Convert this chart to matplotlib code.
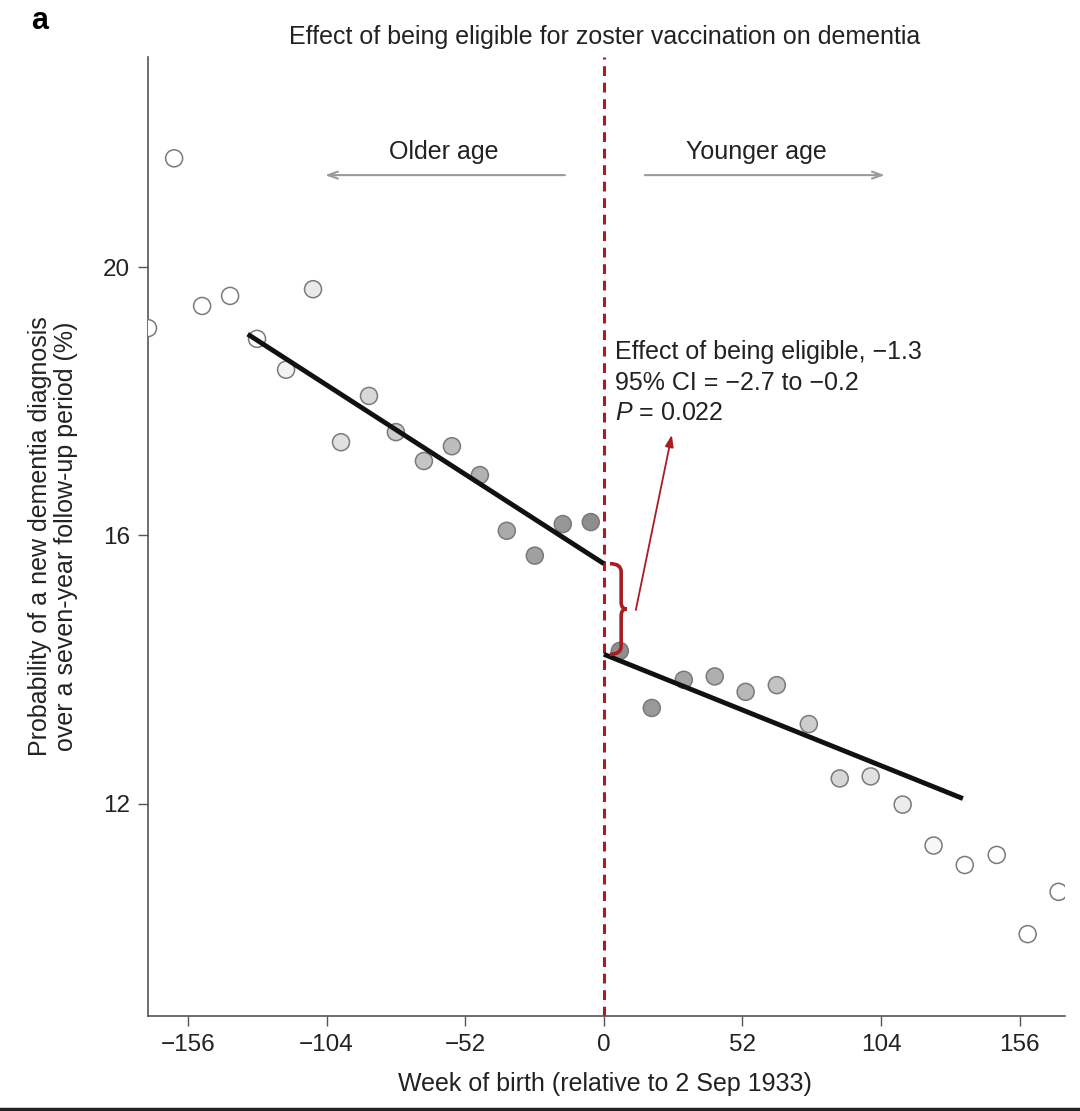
import matplotlib
matplotlib.use("Agg")
import matplotlib.pyplot as plt
from matplotlib.path import Path
from matplotlib.patches import PathPatch
from matplotlib.lines import Line2D
import numpy as np

plt.rcParams['font.family'] = ['Liberation Sans', 'DejaVu Sans']
plt.rcParams['mathtext.fontset'] = 'custom'
plt.rcParams['mathtext.it'] = 'Liberation Sans:italic'
plt.rcParams['mathtext.rm'] = 'Liberation Sans'

# binned data, weeks relative to 2 Sep 1933
weeks_before = [-171, -161.2, -150.7, -140.2, -130.1, -119.2, -109.1, -98.6, -88.1,
                -78.0, -67.5, -57.0, -46.5, -36.4, -25.9, -15.4, -4.9]
prob_before = [19.09, 21.62, 19.42, 19.57, 18.93, 18.47, 19.67, 17.39, 18.08,
               17.54, 17.11, 17.33, 16.90, 16.07, 15.70, 16.17, 16.20]
weeks_after = [6.0, 18.0, 30.0, 41.6, 53.2, 64.9, 76.9, 88.5, 100.1,
               112.1, 123.7, 135.4, 147.4, 159.0, 170.6]
prob_after = [14.28, 13.43, 13.85, 13.90, 13.67, 13.77, 13.19, 12.38, 12.41,
              11.99, 11.38, 11.09, 11.24, 10.06, 10.69]

# fitted lines (local linear, bandwidth ~134 weeks)
fit_before_x = [-133.6, 0]
fit_before_y = [19.00, 15.58]
fit_after_x = [0, 134.7]
fit_after_y = [14.23, 12.08]
bandwidth = 134

effect_lines = ["Effect of being eligible, \u22121.3",
                "95% CI = \u22122.7 to \u22120.2",
                "$P$ = 0.022"]

red = '#a71d23'
txt = '#222222'
fs = 18

fig = plt.figure(figsize=(10.8, 11.11), dpi=100)
ax = fig.add_axes([148/1080, 1 - 1016/1111, (1065-148)/1080, (1016-57)/1111])

wx = np.array(weeks_before + weeks_after)
wy = np.array(prob_before + prob_after)
w = np.clip(1 - np.abs(wx) / bandwidth, 0, 1)
shade = 1 - 0.46 * w
cols = [(s, s, s) for s in shade]
ax.scatter(wx, wy, s=150, c=cols, edgecolors='#7a7a7a', linewidths=1.1, zorder=3)

ax.plot(fit_before_x, fit_before_y, color='#111111', lw=3.5, solid_capstyle='butt', zorder=4)
ax.plot(fit_after_x, fit_after_y, color='#111111', lw=3.5, solid_capstyle='butt', zorder=4)

ax.axvline(0, color=red, lw=2.2, dashes=(3.2, 2.2), zorder=2)

# brace between the two fitted lines at the cutoff
yt, yb = fit_before_y[1], fit_after_y[0]
ym = (yt + yb) / 2
x0, x1, x2 = 2.3, 6.5, 8.6
verts = [(x0, yt), (x1, yt), (x1, yt - 0.12),
         (x1, ym + 0.1),
         (x1, ym), (x2, ym),
         (x1, ym), (x1, ym - 0.1),
         (x1, yb + 0.12),
         (x1, yb), (x0, yb)]
codes = [Path.MOVETO, Path.CURVE3, Path.CURVE3,
         Path.LINETO,
         Path.CURVE3, Path.CURVE3,
         Path.CURVE3, Path.CURVE3,
         Path.LINETO,
         Path.CURVE3, Path.CURVE3]
ax.add_patch(PathPatch(Path(verts, codes), fill=False, edgecolor=red, lw=2.6, zorder=5))

ax.annotate('', xy=(25.5, 17.5), xytext=(12, 14.89),
            arrowprops=dict(arrowstyle='-|>,head_length=0.7,head_width=0.25',
                            color=red, lw=1.3, shrinkA=0, shrinkB=0))

for i, line in enumerate(effect_lines):
    ax.text(4.3, 18.73 - 0.455 * i, line, fontsize=fs, color=txt,
            ha='left', va='center')

# age direction arrows
gray = '#9a9a9a'
for start, end in [(-14.6, -104.6), (15.4, 105.4)]:
    ax.annotate('', xy=(end, 21.37), xytext=(start, 21.37),
                arrowprops=dict(arrowstyle='->,head_length=0.7,head_width=0.25',
                                color=gray, lw=1.5, shrinkA=0, shrinkB=0))
ax.text(-60, 21.72, 'Older age', fontsize=fs, color=txt, ha='center', va='center')
ax.text(57.4, 21.72, 'Younger age', fontsize=fs, color=txt, ha='center', va='center')

ax.set_xlim(-171, 173)
ax.set_ylim(8.84, 23.13)
ax.set_xticks([-156, -104, -52, 0, 52, 104, 156])
ax.set_yticks([12, 16, 20])
ax.tick_params(axis='both', labelsize=17.5, length=7, width=1, color='#555555',
               labelcolor=txt, pad=6)
for side in ['top', 'right']:
    ax.spines[side].set_visible(False)
for side in ['left', 'bottom']:
    ax.spines[side].set_color('#555555')
    ax.spines[side].set_linewidth(1.2)

fig.text(605/1080, 1 - 37/1111, 'Effect of being eligible for zoster vaccination on dementia',
         fontsize=fs, color=txt, ha='center', va='center')
fig.text(40/1080, 1 - 21/1111, 'a', fontsize=22, weight='bold', ha='center', va='center')
fig.text(53/1080, 1 - 536/1111,
         'Probability of a new dementia diagnosis\nover a seven-year follow-up period (%)',
         fontsize=fs, color=txt, rotation=90, ha='center', va='center', linespacing=1.1)
fig.text(605/1080, 1 - 1084/1111, 'Week of birth (relative to 2 Sep 1933)',
         fontsize=fs, color=txt, ha='center', va='center')

fig.add_artist(Line2D([0, 1], [0.0015, 0.0015], transform=fig.transFigure,
                      color='#222222', lw=2.5))

fig.savefig('out.png', dpi=100)
